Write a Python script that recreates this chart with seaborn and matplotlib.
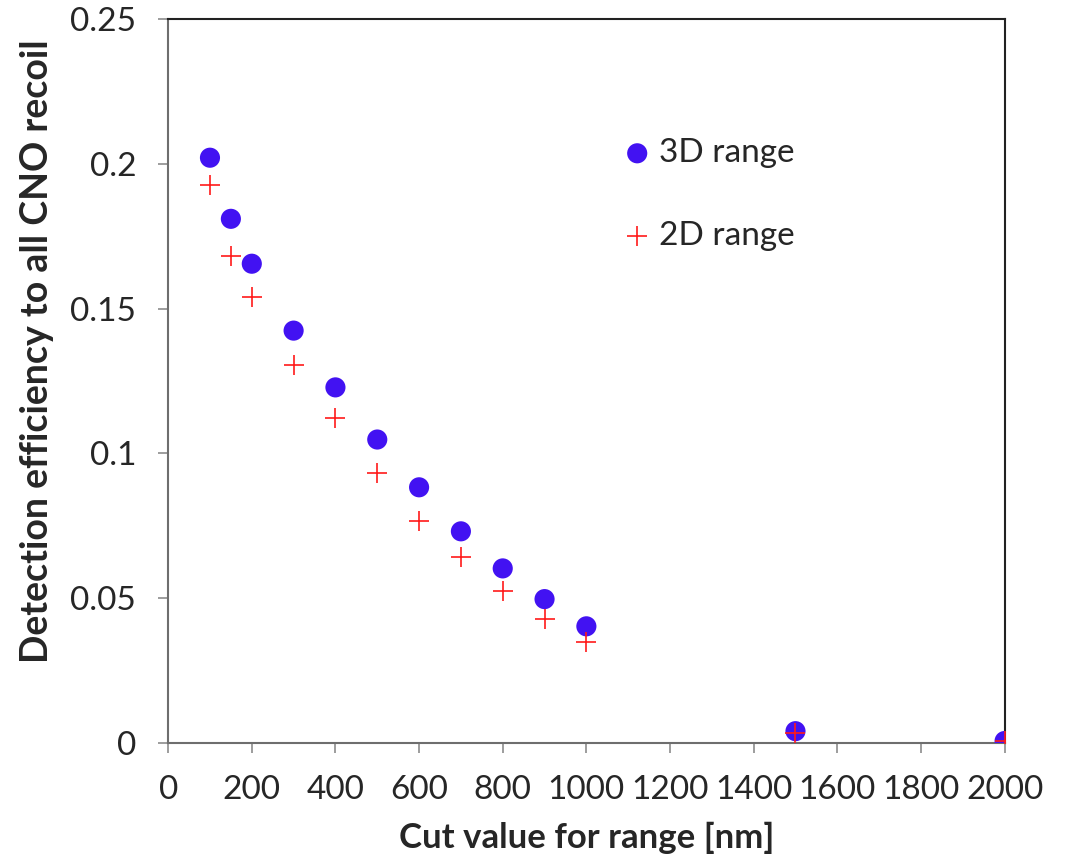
import matplotlib
matplotlib.use("Agg")
import matplotlib.pyplot as plt
import seaborn as sns
import pandas as pd

# cut values [nm] and detection efficiencies
cut_values = [100, 150, 200, 300, 400, 500, 600, 700, 800, 900, 1000, 1500, 2000]
eff_3d = [0.2021, 0.1810, 0.1655, 0.1424, 0.1228, 0.1048, 0.0883, 0.0731,
          0.0603, 0.0497, 0.0403, 0.0041, 0.0007]
eff_2d = [0.1928, 0.1683, 0.1541, 0.1307, 0.1121, 0.0934, 0.0766, 0.0641,
          0.0524, 0.0428, 0.0348, 0.0034, 0.0007]

df = pd.DataFrame({'cut': cut_values, '3D range': eff_3d, '2D range': eff_2d})

sns.set_style('white')
plt.rcParams['font.family'] = ['Lato', 'DejaVu Sans']

fig = plt.figure(figsize=(10.71, 8.63), dpi=100)
ax = fig.add_axes([0.157, 0.139, 0.781, 0.839])

sns.scatterplot(data=df, x='cut', y='3D range', ax=ax, color='#4212F2',
                s=210, edgecolor='none', label='3D range', zorder=3)
sns.scatterplot(data=df, x='cut', y='2D range', ax=ax, color='#FF1A1A',
                marker='+', s=190, linewidth=1.2, label='2D range', zorder=4)

ax.set_xlim(0, 2000)
ax.set_ylim(0, 0.25)
ax.set_xticks(range(0, 2001, 200))
ax.set_yticks([0, 0.05, 0.1, 0.15, 0.2, 0.25])
ax.set_yticklabels(['0', '0.05', '0.1', '0.15', '0.2', '0.25'])

ax.tick_params(axis='both', which='both', direction='out', length=7, width=1.2,
               color='#8c8c8c', labelsize=24, bottom=True, left=True)
ax.tick_params(axis='x', pad=16)
ax.tick_params(axis='y', pad=16)

for side in ['left', 'bottom']:
    ax.spines[side].set_color('#6e6e6e')
    ax.spines[side].set_linewidth(1.5)
for side in ['top', 'right']:
    ax.spines[side].set_color('#222222')
    ax.spines[side].set_linewidth(1.5)

ax.set_xlabel('Cut value for range [nm]', fontsize=25, fontweight='bold', labelpad=12)
ax.set_ylabel('Detection efficiency to all CNO recoil', fontsize=27,
              fontweight='bold')
# label sits a bit above the axis centre in the original
ax.yaxis.set_label_coords(-0.136, 0.541)

ax.legend(loc='upper left', bbox_to_anchor=(0.501, 0.877), frameon=False,
          fontsize=24, labelspacing=1.58, handletextpad=0.05, handlelength=1.2,
          markerscale=1.0)

fig.savefig('out.png', dpi=100)
